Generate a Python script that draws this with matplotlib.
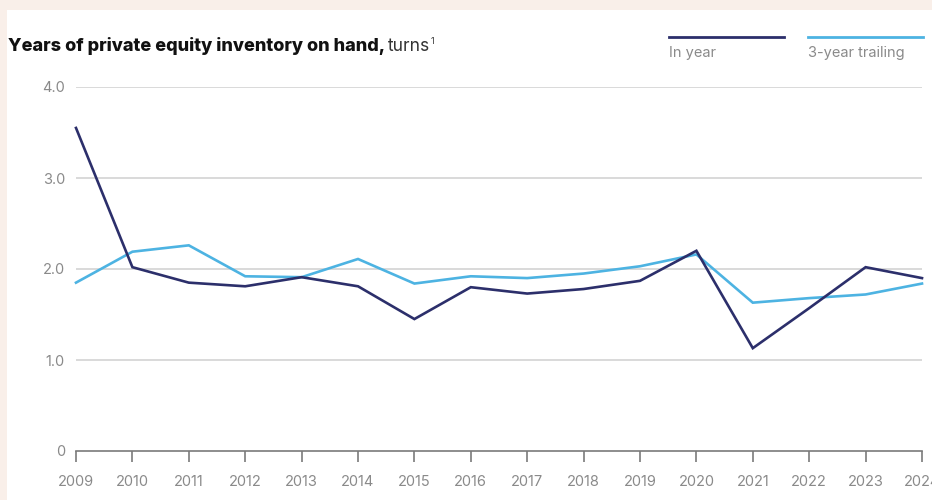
import matplotlib
matplotlib.use("Agg")
import matplotlib.pyplot as plt
from matplotlib.patches import Rectangle
from matplotlib.lines import Line2D

plt.rcParams['font.family'] = ['Inter', 'DejaVu Sans']

years = list(range(2009, 2025))
in_year = [3.55, 2.02, 1.85, 1.81, 1.91, 1.81, 1.45, 1.80, 1.73, 1.78, 1.87, 2.20, 1.13, 1.57, 2.02, 1.90]
trailing = [1.85, 2.19, 2.26, 1.92, 1.91, 2.11, 1.84, 1.92, 1.90, 1.95, 2.03, 2.16, 1.63, 1.68, 1.72, 1.84]
y_ticks = [0, 1.0, 2.0, 3.0, 4.0]
y_labels = ['0', '1.0', '2.0', '3.0', '4.0']

dark = '#2c2f6b'
light = '#4db3e2'
grey_txt = '#8a8a8a'

W, H = 932, 500
fig = plt.figure(figsize=(W / 100, H / 100), dpi=100, facecolor='#f9efe9')
# white panel
fig.patches.append(Rectangle((7 / W, 0), 1, 1 - 10 / H, transform=fig.transFigure,
                             facecolor='white', edgecolor='none', zorder=-5))

ax = fig.add_axes([76 / W, 49 / H, (922 - 76) / W, (451 - 87) / H])
ax.set_facecolor('none')
ax.set_xlim(2009, 2024)
ax.set_ylim(0, 4)
for s in ax.spines.values():
    s.set_visible(False)

for v in y_ticks[1:]:
    ax.axhline(v, color='#d3d3d3', lw=1.2, zorder=1)
ax.axhline(0, color='#7a7a7a', lw=1.2, zorder=1, clip_on=False)

ax.plot(years, trailing, color=light, lw=1.9, zorder=3, clip_on=False, solid_joinstyle='miter')
ax.plot(years, in_year, color=dark, lw=1.9, zorder=4, clip_on=False, solid_joinstyle='miter')

ax.set_yticks(y_ticks)
ax.set_yticklabels(y_labels)
ax.tick_params(axis='y', length=0, pad=8, labelsize=10.5, labelcolor=grey_txt)
ax.set_xticks(years)
ax.set_xticklabels([str(y) for y in years])
ax.tick_params(axis='x', length=8, width=1.2, color='#7a7a7a',
               pad=9, labelsize=10.5, labelcolor=grey_txt)

# title
t1 = fig.text(8 / W, 1 - 51 / H, 'Years of private equity inventory on hand,',
              fontsize=13, fontweight='heavy', color='#111111', va='baseline')
fig.canvas.draw()
bb = t1.get_window_extent()
t2 = fig.text(bb.x1 / W + 3 / W, 1 - 51 / H, 'turns', fontsize=12.5,
              color='#333333', va='baseline')
fig.canvas.draw()
bb2 = t2.get_window_extent()
fig.text(bb2.x1 / W, 1 - 44 / H, '1', fontsize=6.5, color='#333333', va='baseline')

# legend
for x0, x1, c, lab in [(669, 784, dark, 'In year'), (808, 923, light, '3-year trailing')]:
    fig.add_artist(Line2D([x0 / W, x1 / W], [1 - 37 / H, 1 - 37 / H], color=c, lw=2,
                          transform=fig.transFigure))
    fig.text(x0 / W, 1 - 57 / H, lab, fontsize=10.5, color=grey_txt, va='baseline')

fig.savefig('out.png', dpi=100, facecolor=fig.get_facecolor())
